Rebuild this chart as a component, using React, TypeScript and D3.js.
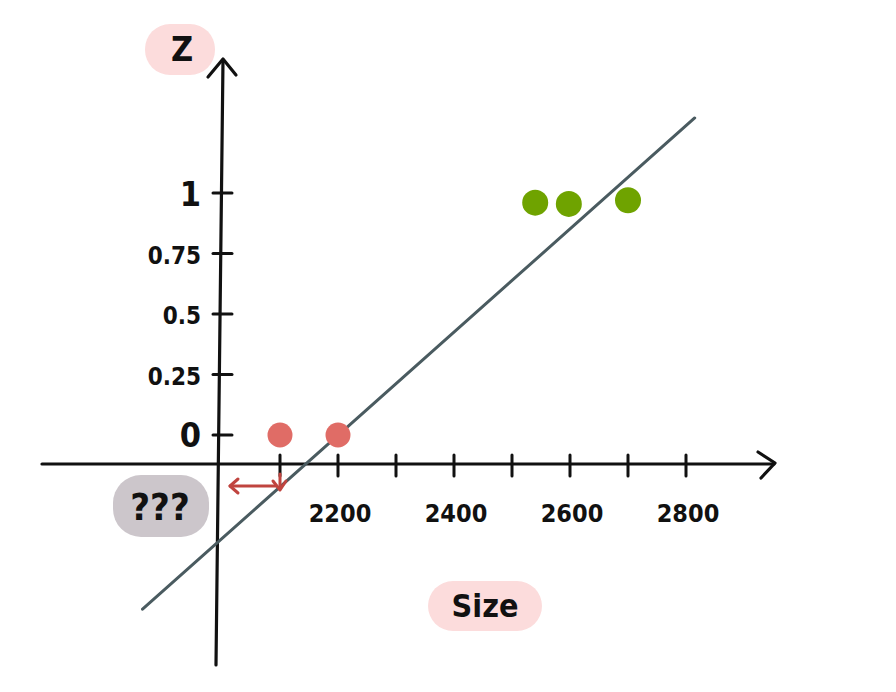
import React from "react";
import * as d3 from "d3";

const redSizes = [2100, 2200];
const redZ = [0, 0];
const greenSizes = [2540, 2598, 2700];
const greenZ = [0.96, 0.955, 0.97];
const fitSizes = [1863, 2815];
const fitZ = [-0.72, 1.31];
const xTickValues = [2100, 2200, 2300, 2400, 2500, 2600, 2700, 2800];
const xTickLabels = ["", "2200", "", "2400", "", "2600", "", "2800"];
const yTickValues = [0, 0.25, 0.5, 0.75, 1];
const yTickLabels = ["0", "0.25", "0.5", "0.75", "1"];

const W = 896;
const H = 692;

export default function App() {
  const x = d3.scaleLinear().domain([2000, 2800]).range([222, 686]);
  const y = d3.scaleLinear().domain([0, 1]).range([435, 193]);
  const axisY = 464;
  const axisX = 222;
  const font = "'DejaVu Sans Condensed', 'DejaVu Sans', sans-serif";
  const line = d3
    .line<number>()
    .x((d) => x(d))
    .y((_, i) => y(fitZ[i]));
  const ink = "#111";
  return (
    <svg
      width={W}
      height={H}
      style={{ position: "absolute", left: 0, top: 0, background: "#fff" }}
    >
      {/* label blobs */}
      <rect x={145} y={24} width={70} height={51} rx={25} fill="#fcdcdc" />
      <text x={182} y={61} textAnchor="middle" fontFamily={font} fontWeight="bold" fontSize={34} fill={ink}>
        Z
      </text>
      <rect x={113} y={475} width={96} height={62} rx={28} fill="#ccc6cb" />
      <text x={160} y={520} textAnchor="middle" fontFamily={font} fontWeight="bold" fontSize={38} fill={ink}>
        ???
      </text>
      <rect x={428} y={581} width={114} height={50} rx={25} fill="#fcdcdc" />
      <text x={485} y={617} textAnchor="middle" fontFamily={font} fontWeight="bold" fontSize={32} fill={ink}>
        Size
      </text>

      {/* axes */}
      <line x1={42} y1={axisY} x2={774} y2={axisY} stroke={ink} strokeWidth={3.2} strokeLinecap="round" />
      <polyline points="758,452 775,463 761,478" fill="none" stroke={ink} strokeWidth={3.2} strokeLinecap="round" strokeLinejoin="round" />
      <line x1={223} y1={60} x2={216} y2={665} stroke={ink} strokeWidth={3.2} strokeLinecap="round" />
      <polyline points="208,77 223,59 236,75" fill="none" stroke={ink} strokeWidth={3.2} strokeLinecap="round" strokeLinejoin="round" />

      {/* x ticks */}
      {xTickValues.map((v, i) => (
        <g key={v}>
          <line x1={x(v)} y1={axisY - 9} x2={x(v)} y2={axisY + 12} stroke={ink} strokeWidth={3} strokeLinecap="round" />
          {xTickLabels[i] && (
            <text x={x(v) + 2} y={522} textAnchor="middle" fontFamily={font} fontWeight="bold" fontSize={25} fill={ink}>
              {xTickLabels[i]}
            </text>
          )}
        </g>
      ))}

      {/* y ticks */}
      {yTickValues.map((v, i) => (
        <g key={v}>
          <line x1={axisX - 9} y1={y(v)} x2={axisX + 10} y2={y(v)} stroke={ink} strokeWidth={3} strokeLinecap="round" />
          <text
            x={axisX - 21}
            y={y(v) + (v === 1 ? 13 : v === 0 ? 12 : 10)}
            textAnchor="end"
            fontFamily={font}
            fontWeight="bold"
            fontSize={v === 1 || v === 0 ? 34 : 24}
            fill={ink}
          >
            {yTickLabels[i]}
          </text>
        </g>
      ))}

      {/* fit line */}
      <path d={line(fitSizes) || ""} fill="none" stroke="#4a5b60" strokeWidth={3} strokeLinecap="round" />

      {/* points */}
      {redSizes.map((s, i) => (
        <circle key={"r" + i} cx={x(s)} cy={y(redZ[i])} r={12.5} fill="#e06c66" />
      ))}
      {greenSizes.map((s, i) => (
        <circle key={"g" + i} cx={x(s)} cy={y(greenZ[i])} r={13} fill="#6fa300" />
      ))}

      {/* red arrow */}
      <line x1={230} y1={486} x2={276} y2={486} stroke="#c0443f" strokeWidth={3} strokeLinecap="round" />
      <polyline points="238,479 230,486 238,493" fill="none" stroke="#c0443f" strokeWidth={3} strokeLinecap="round" strokeLinejoin="round" />
      <line x1={280} y1={474} x2={280} y2={489} stroke="#c0443f" strokeWidth={3} strokeLinecap="round" />
      <polyline points="273,481 280,490 286,481" fill="none" stroke="#c0443f" strokeWidth={3} strokeLinecap="round" strokeLinejoin="round" />
    </svg>
  );
}
